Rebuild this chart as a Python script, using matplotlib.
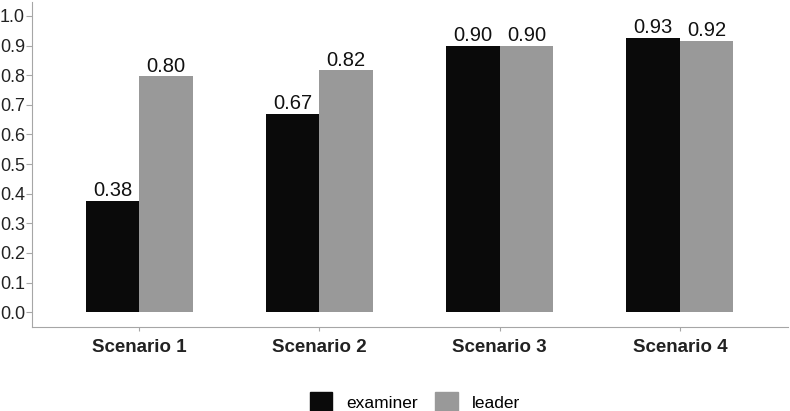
import matplotlib
matplotlib.use('Agg')
import matplotlib.pyplot as plt
from matplotlib.patches import Patch
import numpy as np

plt.rcParams['font.family'] = ['Liberation Sans', 'DejaVu Sans']

scenarios = ['Scenario 1', 'Scenario 2', 'Scenario 3', 'Scenario 4']
examiner = [0.376, 0.670, 0.899, 0.927]
leader = [0.796, 0.816, 0.899, 0.916]
yticks = [0.0, 0.1, 0.2, 0.3, 0.4, 0.5, 0.6, 0.7, 0.8, 0.9, 1.0]

black = '#0a0a0a'
gray = '#999999'
spine = '#a6a6a6'

fig = plt.figure(figsize=(7.9, 4.11), dpi=100)
ax = fig.add_axes([0.0405, 0.2044, 0.957, 0.7906])

x = np.arange(len(scenarios))
w = 0.297
b1 = ax.bar(x - w / 2, examiner, w, color=black, label='examiner')
b2 = ax.bar(x + w / 2, leader, w, color=gray, label='leader')

for bars, vals in ((b1, examiner), (b2, leader)):
    for r, v in zip(bars, vals):
        ax.text(r.get_x() + r.get_width() / 2, v + 0.002, f'{v:.2f}',
                ha='center', va='bottom', fontsize=14.5, color='#111111')

ax.set_xlim(-0.595, 3.6)
ax.set_ylim(-0.05, 1.047)
ax.set_yticks(yticks)
ax.set_yticklabels([f'{t:.1f}' for t in yticks])
ax.set_xticks(x)
ax.set_xticklabels(scenarios, fontsize=13.5, fontweight='bold', color='#222222')

for s in ('top', 'right'):
    ax.spines[s].set_visible(False)
for s in ('left', 'bottom'):
    ax.spines[s].set_color(spine)
ax.tick_params(axis='y', length=4, color=spine, labelsize=13, labelcolor='#222222', pad=1)
ax.tick_params(axis='x', length=3, color=spine, pad=6)

handles = [Patch(color=black, label='examiner'), Patch(color=gray, label='leader')]
fig.legend(handles=handles, loc='center', bbox_to_anchor=(0.525, 0.022), ncol=2,
           frameon=False, fontsize=12.5, handlelength=1.3, handleheight=1.3,
           handletextpad=0.8, columnspacing=1.0)

fig.savefig('out.png', dpi=100)
